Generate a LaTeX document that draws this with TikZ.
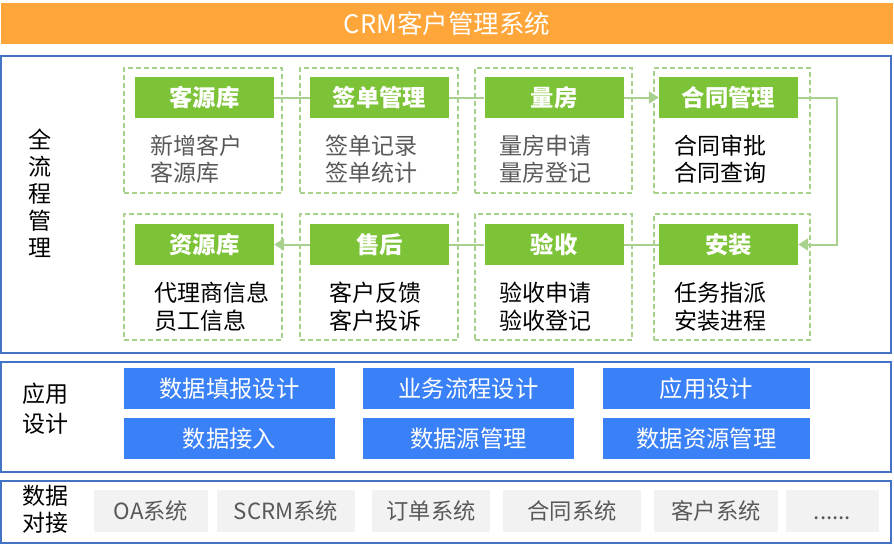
\documentclass[tikz,border=0pt]{standalone}
\usepackage{fontspec}
\setmainfont{Noto Sans CJK SC}
\usetikzlibrary{arrows.meta}
\definecolor{orangebar}{RGB}{255,166,58}
\definecolor{frameblue}{RGB}{68,114,196}
\definecolor{stepgreen}{RGB}{125,195,55}
\definecolor{lightgreen}{RGB}{169,209,142}
\definecolor{appblue}{RGB}{58,128,246}
\definecolor{graybox}{RGB}{242,242,242}
\definecolor{graytext}{RGB}{89,89,89}
\begin{document}
\begin{tikzpicture}[x=1pt,y=-1pt,
  bluefr/.style={draw=frameblue, line width=2pt, inner sep=0pt},
  stepbox/.style={fill=stepgreen, text=white, font=\fontsize{23.3}{26}\selectfont\bfseries, minimum width=139pt, minimum height=41pt, inner sep=0pt},
  groupbox/.style={draw=lightgreen, line width=1.5pt, dash pattern=on 5pt off 3pt, minimum height=125pt, inner sep=0pt},
  subtexta/.style={anchor=west, align=left, font=\fontsize{23}{26.5}\selectfont, inner sep=0pt},
  subtextb/.style={anchor=west, align=left, font=\fontsize{23}{28.5}\selectfont, inner sep=0pt},
  flow/.style={draw=lightgreen, line width=2pt},
  arrowtip/.style={-{Triangle[length=10pt,width=12pt]}},
  appbox/.style={fill=appblue, text=white, font=\fontsize{23.3}{26}\selectfont, minimum height=41pt, inner sep=0pt},
  srcbox/.style={fill=graybox, text=graytext, font=\fontsize{22.3}{25}\selectfont, minimum height=42pt, inner sep=0pt},
  sidelabel/.style={align=center, inner sep=0pt}
]
\useasboundingbox (0,0) rectangle (894,549);

% title banner
\node[fill=orangebar, text=white, minimum width=892pt, minimum height=41pt, inner sep=0pt,
      font=\fontsize{25.5}{28}\selectfont] (title) at (447,23.5) {CRM客户管理系统};

% frames
\node[bluefr, minimum width=890pt, minimum height=297pt] (frameA) at (446,204) {};
\node[bluefr, minimum width=890pt, minimum height=109.5pt] (frameB) at (446,416.75) {};
\node[bluefr, minimum width=890pt, minimum height=62pt] (frameC) at (446,512) {};

% side labels
\node[sidelabel, font=\fontsize{23}{27}\selectfont] (labA) at (40,193.5) {全\\流\\程\\管\\理};
\node[sidelabel, font=\fontsize{23}{30}\selectfont] (labB) at (45,409) {应用\\设计};
\node[sidelabel, font=\fontsize{23}{27}\selectfont] (labC) at (45,509.5) {数据\\对接};

% dashed group boxes
\node[groupbox, minimum width=158pt] (gA) at (203,130.5) {};
\node[groupbox, minimum width=158pt] (gB) at (379,130.5) {};
\node[groupbox, minimum width=157pt] (gC) at (553.5,130.5) {};
\node[groupbox, minimum width=156pt] (gD) at (732,130.5) {};
\node[groupbox, minimum width=158pt, minimum height=126pt] (gE) at (203,277) {};
\node[groupbox, minimum width=158pt, minimum height=126pt] (gF) at (379,277) {};
\node[groupbox, minimum width=157pt, minimum height=126pt] (gG) at (553.5,277) {};
\node[groupbox, minimum width=156pt, minimum height=126pt] (gH) at (732,277) {};

% green step nodes
\node[stepbox] (kyk) at (204.5,97.5) {客源库};
\node[stepbox] (qd)  at (379.5,97.5) {签单管理};
\node[stepbox] (lf)  at (554,97.5)   {量房};
\node[stepbox] (ht)  at (728.5,97.5) {合同管理};
\node[stepbox] (zyk) at (204.5,244.5) {资源库};
\node[stepbox] (sh)  at (379.5,244.5) {售后};
\node[stepbox] (ys)  at (554,244.5)   {验收};
\node[stepbox] (az)  at (728.5,244.5) {安装};

% sub texts
\node[subtexta, text=graytext] (tA) at (150,159.3) {新增客户\\客源库};
\node[subtexta, text=graytext] (tB) at (325,159.3) {签单记录\\签单统计};
\node[subtexta, text=graytext] (tC) at (499,159.3) {量房申请\\量房登记};
\node[subtexta, text=black]    (tD) at (674,159.3) {合同审批\\合同查询};
\node[subtextb, text=black] (tE) at (154,306.7) {代理商信息\\员工信息};
\node[subtextb, text=black] (tF) at (329,306.7) {客户反馈\\客户投诉};
\node[subtextb, text=black] (tG) at (499,306.7) {验收申请\\验收登记};
\node[subtextb, text=black] (tH) at (674,306.7) {任务指派\\安装进程};

% connectors
\coordinate (turn) at (837,97.5);
\draw[flow] (kyk.east) -- (qd.west);
\draw[flow] (qd.east) -- (lf.west);
\draw[flow, arrowtip] (lf.east) -- (ht.west);
\draw[flow, arrowtip] (ht.east) -- (turn) |- (az.east);
\draw[flow] (az.west) -- (ys.east);
\draw[flow] (ys.west) -- (sh.east);
\draw[flow, arrowtip] (sh.west) -- (zyk.east);

% application design
\node[appbox, minimum width=211pt] (a1) at (229.5,388.5) {数据填报设计};
\node[appbox, minimum width=211pt] (a2) at (468.5,388.5) {业务流程设计};
\node[appbox, minimum width=207pt] (a3) at (706.5,388.5) {应用设计};
\node[appbox, minimum width=211pt] (a4) at (229.5,438.5) {数据接入};
\node[appbox, minimum width=211pt] (a5) at (468.5,438.5) {数据源管理};
\node[appbox, minimum width=207pt] (a6) at (706.5,438.5) {数据资源管理};

% data sources
\node[srcbox, minimum width=114pt] (s1) at (151,511)   {OA系统};
\node[srcbox, minimum width=138pt] (s2) at (286,511)   {SCRM系统};
\node[srcbox, minimum width=118pt] (s3) at (431,511)   {订单系统};
\node[srcbox, minimum width=138pt] (s4) at (572,511)   {合同系统};
\node[srcbox, minimum width=124pt] (s5) at (716,511)   {客户系统};
\node[srcbox, minimum width=93pt]  (s6) at (832.5,511) {\vphantom{系}......};
\end{tikzpicture}
\end{document}
